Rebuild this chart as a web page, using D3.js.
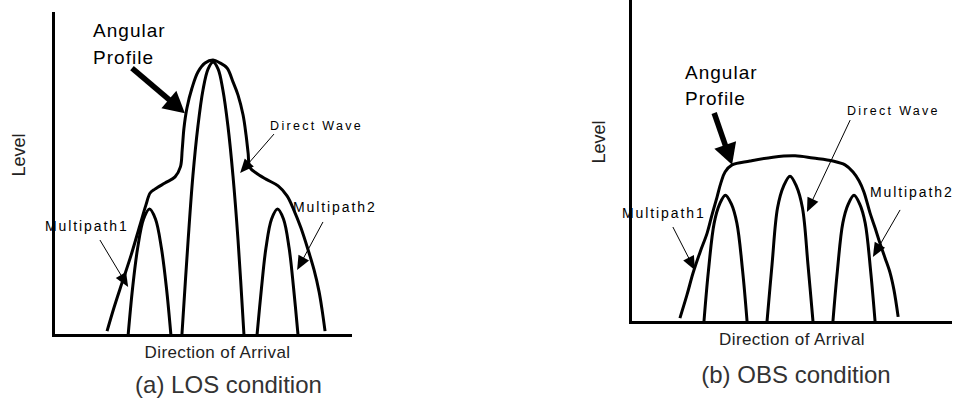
<!DOCTYPE html>
<html>
<head>
<meta charset="utf-8">
<script src="https://cdn.jsdelivr.net/npm/d3@7"></script>
<style>
  html, body { margin: 0; padding: 0; background: #fff; }
  svg { display: block; font-family: "Liberation Sans", Arial, Helvetica, sans-serif; }
</style>
</head>
<body>
<svg id="chart" width="959" height="406"></svg>
<script>
// Direction of arrival (0-100) and received level (0-100) for each curve.
// (a) LOS condition
const losDirectX = [43.4, 45.5, 47.1, 48.8, 50.5, 52.2, 53.9, 55.6, 57.2, 58.9, 60.6, 62.3, 64.3];
const losDirectY = [0, 29.5, 49.4, 64.9, 76.1, 82.6, 84.8, 82.6, 76.1, 64.9, 49.4, 29.5, 0];
const losMulti1X = [25.3, 26.8, 28.5, 30.5, 32.5, 34.5, 36.5, 38.2, 39.7];
const losMulti1Y = [0, 14.6, 27.0, 36.0, 39.1, 36.0, 27.0, 14.6, 0];
const losMulti2X = [68.7, 70.2, 71.7, 73.6, 75.6, 77.6, 79.5, 81.0, 82.5];
const losMulti2Y = [0, 14.6, 27.0, 36.0, 39.1, 36.0, 27.0, 14.6, 0];
const losProfileX = [18.2, 20.5, 23.2, 26.3, 29.3, 31.3, 32.7, 34.3, 37.7, 41.1, 42.9, 43.5, 44.1, 45.1, 46.8, 48.8, 51.2, 53.9,
  56.2, 58.6, 60.6, 62.3, 64.0, 65.0, 65.7, 66.3, 68.4, 71.7, 75.8, 78.8, 81.1, 83.5, 85.9, 87.9, 89.6, 90.6, 91.6];
const losProfileY = [1.2, 8.4, 16.1, 24.8, 34.2, 40.4, 44.1, 45.3, 47.2, 49.1, 52.2, 57.5, 64.3, 70.5, 76.7, 81.7, 84.5, 85.4,
  84.5, 82.9, 78.6, 74.5, 68.3, 62.1, 56.5, 52.0, 50.3, 48.4, 46.3, 43.2, 38.8, 33.2, 26.4, 20.2, 13.4, 7.8, 1.2];

// (b) OBS condition
const obsDirectX = [42.8, 44.4, 46.1, 48.0, 50.0, 52.0, 53.9, 55.6, 57.2];
const obsDirectY = [0, 18.0, 35.4, 42.2, 45.3, 42.2, 35.4, 18.0, 0];
const obsMulti1X = [23.1, 24.5, 26.3, 28.0, 29.8, 31.7, 33.4, 35.2, 36.6];
const obsMulti1Y = [0, 15.8, 30.7, 36.6, 39.4, 36.6, 30.7, 15.8, 0];
const obsMulti2X = [63.4, 64.8, 66.5, 68.2, 70.0, 71.8, 73.5, 75.2, 76.6];
const obsMulti2Y = [0, 15.8, 30.7, 36.6, 39.4, 36.6, 30.7, 15.8, 0];
const obsProfileX = [15.6, 17.8, 19.7, 21.9, 24.1, 25.6, 27.2, 28.4, 29.7, 31.9, 37.5, 44.7, 51.6, 57.2, 63.4, 67.2, 69.7,
  71.6, 73.1, 75.0, 76.6, 78.1, 79.7, 81.3, 82.5, 83.8];
const obsProfileY = [1.2, 8.4, 15.2, 21.7, 27.6, 33.2, 38.8, 43.2, 46.6, 48.8, 50.0, 51.2, 51.6, 50.9, 50.0, 48.8, 46.6,
  43.8, 40.4, 33.9, 29.2, 24.5, 19.9, 15.2, 9.9, 1.6];

// Text
const axisTitleX = "Direction of Arrival";
const axisTitleY = "Level";
const panelTitles = ["(a) LOS condition", "(b) OBS condition"];
const curveNames = ["Direct Wave", "Multipath1", "Multipath2"];
const profileName = ["Angular", "Profile"];

const svg = d3.select("#chart");
const zip = (xs, ys) => xs.map((x, i) => [x, ys[i]]);

// straight shaft with a filled triangular head at (x2, y2)
function arrow(g, x1, y1, x2, y2, width, headLen, headW) {
  const dx = x2 - x1, dy = y2 - y1, len = Math.hypot(dx, dy);
  const ux = dx / len, uy = dy / len, px = -uy, py = ux;
  const bx = x2 - ux * headLen, by = y2 - uy * headLen;
  g.append("line")
    .attr("x1", x1).attr("y1", y1).attr("x2", bx + ux).attr("y2", by + uy)
    .attr("stroke", "#000").attr("stroke-width", width);
  g.append("path")
    .attr("d", `M${x2},${y2}L${bx + px * headW / 2},${by + py * headW / 2}L${bx - px * headW / 2},${by - py * headW / 2}Z`)
    .attr("fill", "#000");
}

function panel(cfg) {
  const x = d3.scaleLinear().domain([0, 100]).range(cfg.xr);
  const y = d3.scaleLinear().domain([0, 100]).range(cfg.yr);
  const g = svg.append("g");

  const line = d3.line().x(d => x(d[0])).y(d => y(d[1])).curve(d3.curveCatmullRom.alpha(0.5));

  // profile envelope and the three arrival lobes
  cfg.curves.forEach(c => {
    g.append("path").attr("d", line(c)).attr("fill", "none")
      .attr("stroke", "#000").attr("stroke-width", 3).attr("stroke-linejoin", "round");
  });

  // bare axes, no ticks
  const ax = g.append("g").attr("transform", `translate(0,${cfg.yr[0]})`)
    .call(d3.axisBottom(x).ticks(0).tickSizeOuter(0));
  const ay = g.append("g").attr("transform", `translate(${cfg.xr[0]},0)`)
    .call(d3.axisLeft(y).ticks(0).tickSizeOuter(0));
  [ax, ay].forEach(a => {
    a.select(".domain").attr("stroke", "#000").attr("stroke-width", 3).attr("stroke-linecap", "square");
    a.selectAll("text").remove();
  });

  // axis titles and panel caption
  const xm = (cfg.xr[0] + cfg.xr[1]) / 2;
  g.append("text").attr("x", xm + cfg.xTitleDx).attr("y", cfg.yr[0] + cfg.xTitleDy)
    .attr("text-anchor", "middle").attr("font-size", 17).attr("letter-spacing", 0.4)
    .attr("fill", "#222").text(axisTitleX);
  g.append("text")
    .attr("transform", `translate(${cfg.xr[0] - cfg.yTitleDx},${cfg.yTitleY}) rotate(-90)`)
    .attr("text-anchor", "middle").attr("font-size", 18).attr("fill", "#222").text(axisTitleY);
  g.append("text").attr("x", xm + cfg.titleDx).attr("y", cfg.yr[0] + cfg.titleDy)
    .attr("text-anchor", "middle").attr("font-size", 24).attr("fill", "#333").text(cfg.title);

  // Angular profile label and thick arrow
  const a = cfg.profileLabel;
  profileName.forEach((t, i) => {
    g.append("text").attr("x", x(a.at[0])).attr("y", y(a.at[1]) + i * 26.5)
      .attr("font-size", 19).attr("letter-spacing", 1).attr("fill", "#000").text(t);
  });
  arrow(g, x(a.from[0]), y(a.from[1]), x(a.to[0]), y(a.to[1]), 5.5, 21, 23);

  // thin callouts
  cfg.callouts.forEach(c => {
    g.append("text").attr("x", x(c.at[0])).attr("y", y(c.at[1]))
      .attr("font-size", c.size).attr("letter-spacing", c.ls).attr("fill", "#000").text(c.text);
    arrow(g, x(c.from[0]), y(c.from[1]), x(c.to[0]), y(c.to[1]), 1, 14, 12);
  });
}

panel({
  xr: [53, 350], yr: [335, 13],
  title: panelTitles[0], xTitleDx: 16, xTitleDy: 23, titleDx: 27, titleDy: 58,
  yTitleDx: 28, yTitleY: 155,
  curves: [zip(losProfileX, losProfileY), zip(losMulti1X, losMulti1Y), zip(losDirectX, losDirectY), zip(losMulti2X, losMulti2Y)],
  profileLabel: { at: [13.5, 92.5], from: [26.6, 82.9], to: [44.4, 68.9] },
  callouts: [
    { text: curveNames[0], at: [73.1, 63.7], from: [74.4, 62.4], to: [63.0, 50.3], size: 12.5, ls: 2.3 },
    { text: curveNames[1], at: [-2.7, 32.3], from: [15.8, 29.5], to: [25.3, 14.9], size: 14, ls: 1.9 },
    { text: curveNames[2], at: [80.8, 38.2], from: [90.9, 35.1], to: [82.2, 20.2], size: 14, ls: 1.9 }
  ]
});

panel({
  xr: [630, 950], yr: [322, 0],
  title: panelTitles[1], xTitleDx: 2, xTitleDy: 23, titleDx: 6, titleDy: 61,
  yTitleDx: 25, yTitleY: 142,
  curves: [zip(obsProfileX, obsProfileY), zip(obsMulti1X, obsMulti1Y), zip(obsDirectX, obsDirectY), zip(obsMulti2X, obsMulti2Y)],
  profileLabel: { at: [17.2, 75.5], from: [26.3, 64.9], to: [31.9, 48.8] },
  callouts: [
    { text: curveNames[0], at: [67.8, 64.3], from: [68.8, 62.7], to: [55.3, 34.2], size: 12.5, ls: 2.3 },
    { text: curveNames[1], at: [-2.5, 32.3], from: [13.4, 29.5], to: [20.3, 16.1], size: 14, ls: 1.9 },
    { text: curveNames[2], at: [75.0, 38.8], from: [84.4, 34.8], to: [75.9, 20.2], size: 14, ls: 1.9 }
  ]
});
</script>
</body>
</html>
